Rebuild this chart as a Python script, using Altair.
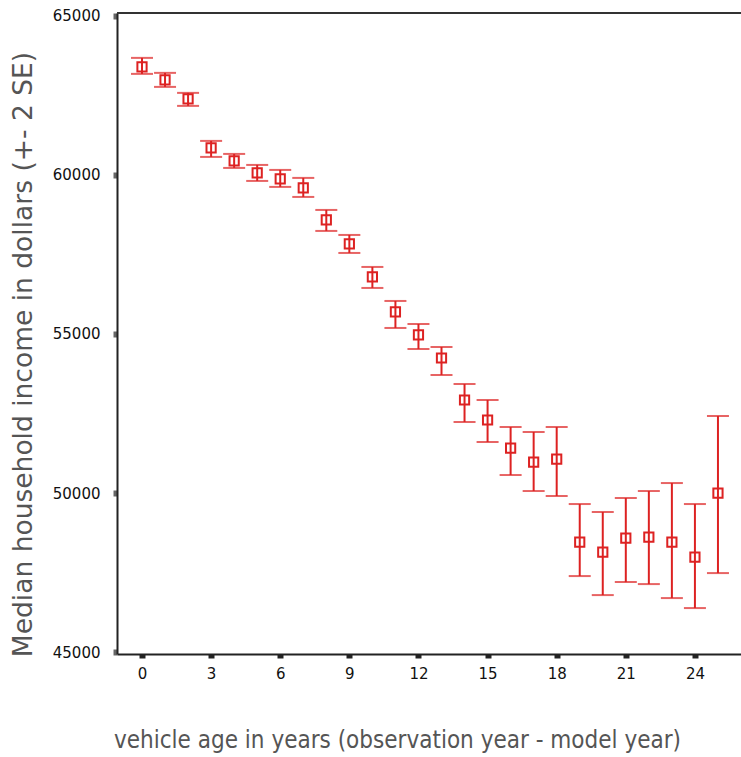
import altair as alt
import pandas as pd

age = list(range(26))
median = [63396, 62987, 62390, 60849, 60440, 60063, 59874, 59591, 58585, 57830,
          56792, 55692, 54969, 54245, 52925, 52296, 51415, 50975, 51069, 48459,
          48145, 48585, 48616, 48459, 47987, 50000]
lower = [63176, 62767, 62170, 60566, 60220, 59811, 59623, 59308, 58239, 57547,
         56447, 55189, 54528, 53711, 52233, 51604, 50566, 50063, 49906, 47390,
         46792, 47201, 47138, 46698, 46384, 47484]
upper = [63679, 63208, 62579, 61069, 60660, 60314, 60157, 59906, 58899, 58113,
         57107, 56038, 55314, 54591, 53428, 52925, 52075, 51918, 52075, 49654,
         49403, 49843, 50063, 50314, 49654, 52421]

x_ticks = [0, 3, 6, 9, 12, 15, 18, 21, 24]
y_ticks = [45000, 50000, 55000, 60000, 65000]

df = pd.DataFrame({"age": age, "median": median, "lower": lower, "upper": upper})

RED = "#dd2222"
W, H = 624, 641
XT = "vehicle age in years (observation year - model year)"
YT = "Median household income in dollars (+- 2 SE)"

xs = alt.Scale(domain=[-1.085, 26.0], nice=False, zero=False)
ys = alt.Scale(domain=[44940, 65090], nice=False, zero=False)

x_axis = alt.Axis(values=x_ticks, title=XT,
                  grid=False, domainColor="#222", domainWidth=2,
                  tickColor="#222", tickSize=4, tickWidth=6,
                  labelFont="DejaVu Sans", labelFontSize=15, labelColor="#111",
                  labelPadding=8,
                  titleFont="DejaVu Sans Condensed", titleFontSize=24, titleFontWeight="normal",
                  titleColor="#555", titleX=280, titleY=93, titleBaseline="alphabetic",
                  titleAlign="center")
y_axis = alt.Axis(values=y_ticks, format="d", title=YT,
                  grid=False, domainColor="#222", domainWidth=2,
                  tickColor="#666", tickSize=4, tickWidth=6,
                  labelFont="DejaVu Sans", labelFontSize=15, labelColor="#111",
                  labelPadding=13,
                  titleFont="DejaVu Sans", titleFontSize=26.5, titleFontWeight="normal",
                  titleColor="#555", titleX=-86, titleY=341, titleAngle=270,
                  titleBaseline="alphabetic", titleAlign="center")

base = alt.Chart(df)

bars = base.mark_rule(color=RED, strokeWidth=2).encode(
    x=alt.X("age:Q", scale=xs, axis=x_axis, title=XT),
    y=alt.Y("lower:Q", scale=ys, axis=y_axis, title=YT),
    y2="upper:Q",
)
cap_lo = base.mark_tick(color=RED, orient="horizontal", size=22, thickness=2).encode(
    x=alt.X("age:Q", scale=xs, axis=x_axis, title=XT),
    y=alt.Y("lower:Q", scale=ys, axis=y_axis, title=YT),
)
cap_hi = base.mark_tick(color=RED, orient="horizontal", size=22, thickness=2).encode(
    x=alt.X("age:Q", scale=xs, axis=x_axis, title=XT),
    y=alt.Y("upper:Q", scale=ys, axis=y_axis, title=YT),
)
pts = base.mark_point(color=RED, shape="square", filled=False, size=85, strokeWidth=2, opacity=1).encode(
    x=alt.X("age:Q", scale=xs, axis=x_axis, title=XT),
    y=alt.Y("median:Q", scale=ys, axis=y_axis, title=YT),
)
top = alt.Chart(df).mark_rule(color="#333", strokeWidth=2).encode(
    x=alt.value(0), x2=alt.value(W), y=alt.value(0)
)

chart = alt.layer(bars, cap_lo, cap_hi, pts, top).properties(
    width=W, height=H,
    autosize=alt.AutoSizeParams(type="none"),
    padding={"left": 117, "top": 13, "right": 0, "bottom": 103},
).configure_view(stroke=None)

chart.save("out.html", embed_options={"renderer": "svg", "actions": False})
